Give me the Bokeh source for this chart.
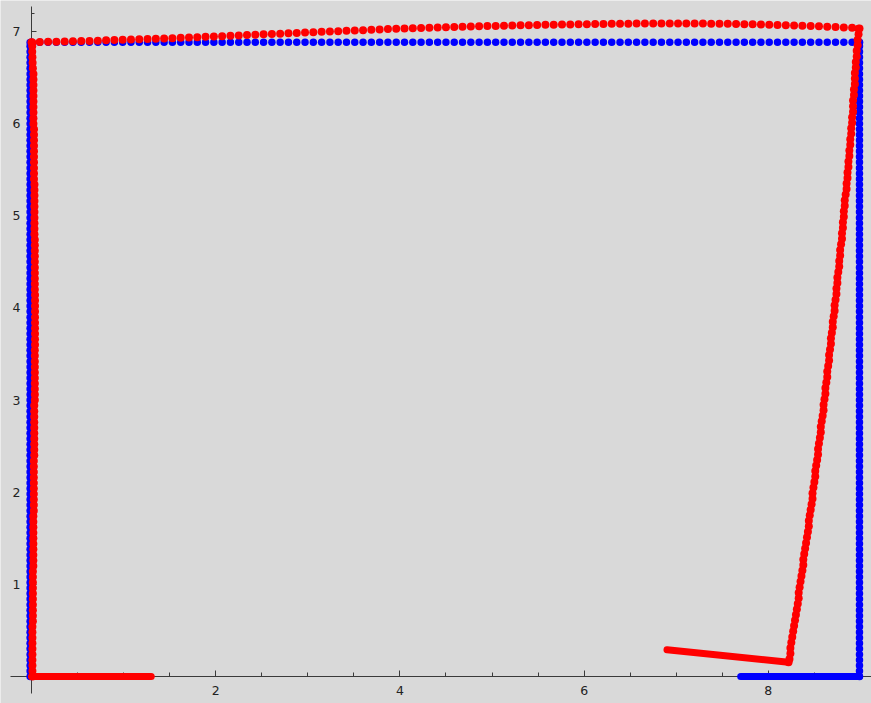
from bokeh.plotting import figure
from bokeh.models import ColumnDataSource, LinearAxis, FixedTicker
from bokeh.embed import file_html
from bokeh.resources import INLINE

# ---- data -------------------------------------------------------------
# sample positions along the top edge (shared by both paths)
top_x = [0.00, 0.09, 0.18, 0.27, 0.36, 0.45, 0.54, 0.63, 0.72, 0.81,
         0.90, 0.99, 1.08, 1.17, 1.26, 1.35, 1.44, 1.53, 1.62, 1.71,
         1.80, 1.89, 1.98, 2.07, 2.16, 2.25, 2.34, 2.43, 2.52, 2.61,
         2.70, 2.79, 2.88, 2.97, 3.06, 3.15, 3.24, 3.33, 3.42, 3.51,
         3.60, 3.69, 3.78, 3.87, 3.96, 4.05, 4.14, 4.23, 4.32, 4.41,
         4.50, 4.59, 4.68, 4.77, 4.86, 4.95, 5.04, 5.13, 5.22, 5.31,
         5.40, 5.49, 5.58, 5.67, 5.76, 5.85, 5.94, 6.03, 6.12, 6.21,
         6.30, 6.39, 6.48, 6.57, 6.66, 6.75, 6.84, 6.93, 7.02, 7.11,
         7.20, 7.29, 7.38, 7.47, 7.56, 7.65, 7.74, 7.83, 7.92, 8.01,
         8.10, 8.19, 8.28, 8.37, 8.46, 8.55, 8.64, 8.73, 8.82, 8.91,
         8.99]

# sample heights along the vertical edges
edge_y = [0.00, 0.06, 0.12, 0.18, 0.24, 0.30, 0.36, 0.42, 0.48, 0.54,
          0.60, 0.66, 0.72, 0.78, 0.84, 0.90, 0.96, 1.02, 1.08, 1.14,
          1.20, 1.26, 1.32, 1.38, 1.44, 1.50, 1.56, 1.62, 1.68, 1.74,
          1.80, 1.86, 1.92, 1.98, 2.04, 2.10, 2.16, 2.22, 2.28, 2.34,
          2.40, 2.46, 2.52, 2.58, 2.64, 2.70, 2.76, 2.82, 2.88, 2.94,
          3.00, 3.06, 3.12, 3.18, 3.24, 3.30, 3.36, 3.42, 3.48, 3.54,
          3.60, 3.66, 3.72, 3.78, 3.84, 3.90, 3.96, 4.02, 4.08, 4.14,
          4.20, 4.26, 4.32, 4.38, 4.44, 4.50, 4.56, 4.62, 4.68, 4.74,
          4.80, 4.86, 4.92, 4.98, 5.04, 5.10, 5.16, 5.22, 5.28, 5.34,
          5.40, 5.46, 5.52, 5.58, 5.64, 5.70, 5.76, 5.82, 5.88, 5.94,
          6.00, 6.06, 6.12, 6.18, 6.24, 6.30, 6.36, 6.42, 6.48, 6.54,
          6.60, 6.66, 6.72, 6.78, 6.84, 6.88]

# reference path (blue): rectangle 0..9 x 0..6.884, bottom run 7.70..9.00
blue_top_y = 6.884
blue_left_x = -0.015
blue_right_x = 8.99
blue_base_x = [7.70, 8.99]
blue_base_y = [0.0, 0.0]

# estimated path (red)
red_top_y = [6.884, 6.886, 6.888, 6.890, 6.892, 6.894, 6.896, 6.898, 6.901, 6.904,
             6.907, 6.910, 6.913, 6.916, 6.919, 6.922, 6.925, 6.928, 6.932, 6.935,
             6.939, 6.942, 6.946, 6.949, 6.953, 6.957, 6.961, 6.965, 6.969, 6.973,
             6.977, 6.981, 6.985, 6.989, 6.993, 6.997, 7.001, 7.004, 7.008, 7.012,
             7.015, 7.019, 7.022, 7.026, 7.029, 7.032, 7.035, 7.038, 7.041, 7.044,
             7.047, 7.049, 7.052, 7.054, 7.057, 7.059, 7.061, 7.063, 7.065, 7.067,
             7.069, 7.071, 7.073, 7.074, 7.076, 7.077, 7.079, 7.080, 7.081, 7.082,
             7.083, 7.084, 7.085, 7.086, 7.086, 7.087, 7.087, 7.087, 7.087, 7.087,
             7.086, 7.086, 7.085, 7.084, 7.083, 7.081, 7.080, 7.078, 7.076, 7.073,
             7.071, 7.068, 7.065, 7.062, 7.059, 7.056, 7.052, 7.048, 7.044, 7.040,
             7.032]

red_left_x = [
    0.010, 0.010, 0.010, 0.010, 0.010, 0.010, 0.010, 0.010, 0.010, 0.010,
    0.015, 0.015, 0.015, 0.015, 0.015, 0.015, 0.015, 0.015, 0.015, 0.015,
    0.020, 0.020, 0.020, 0.020, 0.020, 0.020, 0.020, 0.020, 0.020, 0.020,
    0.025, 0.025, 0.025, 0.025, 0.025, 0.025, 0.025, 0.025, 0.025, 0.025,
    0.030, 0.030, 0.030, 0.030, 0.030, 0.030, 0.030, 0.030, 0.030, 0.030,
    0.036, 0.036, 0.036, 0.036, 0.036, 0.036, 0.036, 0.036, 0.036, 0.036,
    0.038, 0.038, 0.038, 0.038, 0.038, 0.038, 0.038, 0.038, 0.038, 0.038,
    0.036, 0.036, 0.036, 0.036, 0.036, 0.036, 0.036, 0.036, 0.036, 0.036,
    0.032, 0.032, 0.032, 0.032, 0.032, 0.032, 0.032, 0.032, 0.032, 0.032,
    0.027, 0.027, 0.027, 0.027, 0.027, 0.027, 0.027, 0.027, 0.027, 0.027,
    0.021, 0.021, 0.021, 0.021, 0.021, 0.021, 0.021, 0.021, 0.021, 0.021,
    0.015, 0.012, 0.010, 0.008, 0.008, 0.008]

red_right_x = [8.98, 8.98, 8.97, 8.97, 8.96, 8.96, 8.95, 8.95, 8.94, 8.94,
               8.94, 8.93, 8.93, 8.92, 8.92, 8.92, 8.91, 8.91, 8.90, 8.90,
               8.89, 8.89, 8.88, 8.88, 8.87, 8.87, 8.86, 8.86, 8.85, 8.85,
               8.84, 8.83, 8.83, 8.82, 8.82, 8.81, 8.81, 8.80, 8.80, 8.79,
               8.78, 8.78, 8.77, 8.77, 8.76, 8.75, 8.75, 8.74, 8.74, 8.73,
               8.72, 8.72, 8.71, 8.70, 8.70, 8.69, 8.68, 8.68, 8.67, 8.66,
               8.66, 8.65, 8.64, 8.64, 8.63, 8.62, 8.62, 8.61, 8.60, 8.60,
               8.59, 8.58, 8.57, 8.57, 8.56, 8.55, 8.54, 8.54, 8.53, 8.52,
               8.51, 8.51, 8.50, 8.49, 8.48, 8.48, 8.47, 8.46, 8.45, 8.44,
               8.44, 8.43, 8.42, 8.41, 8.40, 8.39, 8.38, 8.38, 8.37, 8.36,
               8.35, 8.34, 8.33, 8.33, 8.32, 8.31, 8.30, 8.29, 8.28, 8.27,
               8.26, 8.25, 8.24, 8.24, 8.23, 8.22]
red_right_y = [7.03, 6.97, 6.91, 6.85, 6.79, 6.73, 6.67, 6.61, 6.55, 6.49,
               6.43, 6.37, 6.31, 6.25, 6.19, 6.13, 6.07, 6.01, 5.95, 5.89,
               5.83, 5.77, 5.71, 5.65, 5.59, 5.53, 5.47, 5.41, 5.35, 5.29,
               5.23, 5.17, 5.11, 5.05, 4.99, 4.93, 4.87, 4.81, 4.75, 4.69,
               4.63, 4.57, 4.51, 4.45, 4.39, 4.33, 4.27, 4.21, 4.15, 4.09,
               4.03, 3.97, 3.91, 3.85, 3.79, 3.73, 3.67, 3.61, 3.55, 3.49,
               3.43, 3.37, 3.31, 3.25, 3.19, 3.13, 3.07, 3.01, 2.95, 2.89,
               2.83, 2.77, 2.71, 2.65, 2.59, 2.53, 2.47, 2.41, 2.35, 2.29,
               2.23, 2.17, 2.11, 2.05, 1.99, 1.93, 1.87, 1.81, 1.75, 1.69,
               1.63, 1.57, 1.51, 1.45, 1.39, 1.33, 1.27, 1.21, 1.15, 1.09,
               1.03, 0.97, 0.91, 0.85, 0.79, 0.73, 0.67, 0.61, 0.55, 0.49,
               0.43, 0.37, 0.31, 0.25, 0.19, 0.155]

red_base_x = [0.0, 1.30]
red_base_y = [0.0, 0.0]
red_tail_x = [6.90, 8.22]
red_tail_y = [0.29, 0.155]

# axis ticks
x_ticks = [2, 4, 6, 8]
x_minor = [0.5, 1.0, 1.5, 2.5, 3.0, 3.5, 4.5, 5.0, 5.5, 6.5, 7.0, 7.5, 8.5, 9.0]
y_ticks = [1, 2, 3, 4, 5, 6, 7]
y_minor = [0.2, 0.4, 0.6, 0.8, 1.2, 1.4, 1.6, 1.8, 2.2, 2.4, 2.6, 2.8,
           3.2, 3.4, 3.6, 3.8, 4.2, 4.4, 4.6, 4.8, 5.2, 5.4, 5.6, 5.8,
           6.2, 6.4, 6.6, 6.8, 7.2]

# ---- figure -------------------------------------------------------------
BG = "#d9d9d9"
BLUE = "#0000ff"
RED = "#ff0000"

p = figure(width=871, height=703,
           x_range=(-0.3366, 9.1205), y_range=(-0.293, 7.3366),
           output_backend="svg", toolbar_location=None,
           x_axis_location=None, y_axis_location=None,
           min_border=0, background_fill_color=BG, border_fill_color=BG,
           outline_line_color=None)
p.grid.visible = False

axis_style = dict(
    axis_line_color="#3a3a3a", axis_line_width=1,
    major_tick_line_color="#3a3a3a", minor_tick_line_color="#3a3a3a",
    major_tick_out=0, minor_tick_out=0,
    major_label_text_font="DejaVu Sans", major_label_text_font_size="12.5px",
    major_label_text_color="#222222",
    level="underlay",
)

xaxis = LinearAxis(fixed_location=0,
                   ticker=FixedTicker(ticks=x_ticks, minor_ticks=x_minor),
                   bounds=(-0.23, 9.12), major_tick_in=6, minor_tick_in=4,
                   major_label_standoff=9, **axis_style)
p.add_layout(xaxis, "below")

yaxis = LinearAxis(fixed_location=0,
                   ticker=FixedTicker(ticks=y_ticks, minor_ticks=y_minor),
                   bounds=(-0.185, 7.27), major_tick_in=5, minor_tick_in=3,
                   major_label_standoff=11, **axis_style)
p.add_layout(yaxis, "left")

# reference path
blue_top = ColumnDataSource(dict(x=top_x, y=[blue_top_y] * len(top_x)))
blue_left = ColumnDataSource(dict(x=[blue_left_x] * len(edge_y), y=edge_y))
blue_right = ColumnDataSource(dict(x=[blue_right_x] * len(edge_y), y=edge_y))
for src in (blue_left, blue_right, blue_top):
    p.scatter("x", "y", source=src, size=7.5, fill_color=BLUE,
              line_color=None)
p.line(blue_base_x, blue_base_y, line_width=7, line_color=BLUE,
       line_cap="round")

# estimated path
red_top = ColumnDataSource(dict(x=top_x, y=red_top_y))
red_left = ColumnDataSource(dict(x=red_left_x, y=edge_y))
red_right = ColumnDataSource(dict(x=red_right_x, y=red_right_y))
for src in (red_left, red_right, red_top):
    p.scatter("x", "y", source=src, size=8, fill_color=RED, line_color=None)
p.line(red_base_x, red_base_y, line_width=7, line_color=RED, line_cap="round")
p.line(red_tail_x, red_tail_y, line_width=7, line_color=RED, line_cap="round")

open("out.html", "w").write(file_html(p, INLINE))
